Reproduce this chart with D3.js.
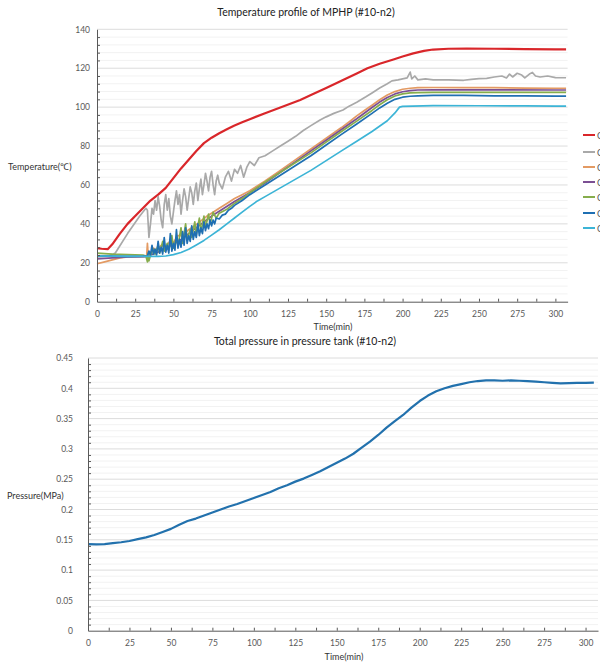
<!DOCTYPE html>
<html>
<head>
<meta charset="utf-8">
<script src="https://cdn.jsdelivr.net/npm/d3@7"></script>
<style>
  html, body { margin: 0; padding: 0; background: #fff; }
  svg { display: block; font-family: Lato, "Noto Sans", sans-serif; }
  .tick text { fill: #595959; }
</style>
</head>
<body>
<svg id="chart" width="600" height="664"></svg>
<script>
// ---- Temperature readings: [time (min), temperature (°C)] ----
const chRed = [[0,27.5],[3,27.2],[7,27],[10,29.5],[15,35],[20,40],[25,44],[30,48],[35,52],[40,55],[45,58.5],[50,63.5],[55,68.5],[60,73],[65,77.5],[70,81.5],[75,84.3],[80,86.6],[85,88.6],[90,90.5],[95,92.2],[100,93.8],[110,96.9],[120,99.8],[133,103.7],[140,106.2],[150,109.8],[160,113.5],[170,117.3],[177,120],[185,122.3],[194,124.5],[200,126],[207,127.6],[214,128.9],[220,129.6],[230,130],[242,130.1],[260,130],[280,129.8],[300,129.7],[307,129.7]];

const chGray = [[0,23],[8,23.5],[12,25],[20,35],[28,44],[32,48],[33,47],[34,33],[35,40],[36,48],[37,45],[38,52],[39,47],[40,54],[41,49],[42,42],[43,38],[44,50],[45,55],[46,47],[47,53],[48,44],[49,40],[50,46],[51,52],[52,57],[53,50],[54,55],[55,45],[56,52],[57,58],[58,54],[59,47],[60,53],[61,59],[62,56],[63,50],[64,57],[65,61],[66,52],[67,58],[68,63],[69,55],[70,60],[71,66],[72,62],[73,57],[74,64],[75,67],[76,60],[77,55],[78,62],[79,65],[80,61],[82,58],[84,64],[86,67],[88,62],[90,68],[92,66],[94,70],[96,64],[98,69],[100,72],[103,70],[106,74],[110,75],[115,77.5],[120,80],[125,82.5],[130,85],[135,88],[140,90.5],[146,93.4],[150,95],[155,96.8],[161,98.5],[165,100.5],[170,102.5],[176,105.3],[180,107.3],[185,109.8],[190,112],[193,113.5],[197,114],[200,114.5],[203,115],[205,118],[206,114.5],[208,116],[210,114],[215,114.5],[220,114],[230,114],[240,113.8],[245,114.3],[250,114.6],[255,114.8],[260,115.5],[265,116],[268,115],[270,117],[272,115.5],[275,117.4],[278,116.5],[280,115],[283,117],[285,117.8],[287,116],[290,115.5],[295,116],[300,115.2],[307,115.1]];

const chOrange = [[0,19.5],[5,20.5],[10,21.5],[15,22.5],[20,23],[30,23.2],[32.5,23.5],[33,30],[33.5,24],[35,25],[37,27.5],[39,26],[42,29],[45,28],[48,31.5],[50,30.5],[53,34],[56,34],[60,37],[64,39],[68,41.5],[72,44],[76,46],[80,48],[85,50.5],[90,53],[95,55],[100,57],[110,62],[120,67.5],[130,73],[140,78.5],[150,84],[160,89.5],[166,93],[170,95.5],[175,98.3],[180,101],[185,103.8],[190,106.2],[195,108],[200,109.2],[205,109.7],[210,110],[220,110.1],[240,110],[260,110],[280,109.8],[300,109.7],[307,109.7]];

const chPurple = [[0,22],[10,22.5],[20,23],[33,23.2],[35,24],[40,25.5],[45,27.5],[50,29.5],[55,32],[60,35],[65,38],[70,41],[75,44],[80,46.5],[90,51.5],[100,56],[110,61],[120,66.5],[130,72],[140,77.5],[150,83],[160,88.5],[170,94],[180,99.8],[185,102.6],[190,105],[195,106.8],[200,107.9],[205,108.5],[210,108.8],[220,108.9],[300,108.8],[307,108.8]];

const chGreen = [[0,25],[10,24.5],[20,24.2],[30,24],[32,23.5],[33,20.5],[33.5,25],[34,21],[35,24],[37,27],[38,24.5],[40,29],[41,25],[43,31],[44,26],[46,30],[47,26.5],[49,34],[50,27.5],[52,33],[53,28.5],[55,38],[56,30],[58,40],[59,31.5],[61,37],[62,33],[64,41],[65,34.5],[67,43],[68,36],[70,44],[71,38],[73,45],[74,40],[76,46],[78,43],[80,45.5],[85,47.5],[90,50.5],[95,53],[100,56],[110,61.5],[120,66.5],[130,71.5],[140,76.5],[150,82],[160,87.5],[170,92.8],[180,98.3],[185,101.2],[190,103.8],[195,105.7],[200,106.8],[205,107.3],[210,107.5],[220,107.6],[300,107.6],[307,107.6]];

const chBlue = [[0,23.5],[10,23.4],[20,23.3],[30,23.4],[33,23.5],[34,26],[35,24],[36,29],[37,24.5],[38,27],[39,24],[40,31],[41,25],[42,28],[43,24.5],[44,33],[45,25.5],[46,29],[47,25],[48,35],[49,26],[50,30],[51,26.5],[52,37],[53,27.5],[54,32],[55,28],[56,36],[57,29],[58,38],[59,30],[60,34],[61,31],[62,39],[63,32],[64,36],[65,33],[66,40],[67,34],[68,38],[69,35],[70,41],[71,36.5],[72,40],[73,37.5],[74,42],[75,39],[76,42],[77,40],[78,43],[80,42.5],[82,44.5],[84,45],[86,47],[88,48],[90,49.5],[95,52],[100,55],[110,60],[120,65],[130,70],[140,75],[150,80.5],[160,86],[170,91.3],[180,96.8],[185,99.6],[190,102],[195,104],[200,105.1],[205,105.6],[210,105.8],[220,106],[240,106],[260,105.8],[280,105.8],[300,105.7],[307,105.7]];

const chCyan = [[0,23.5],[20,23.3],[40,23.3],[45,23.5],[50,24.2],[55,25.3],[60,27],[65,29.2],[70,31.5],[75,34.2],[80,37],[85,40],[90,43],[95,46],[100,49],[105,51.8],[110,54],[120,58.5],[130,63],[140,67.5],[150,72.5],[160,77.5],[170,82.5],[180,87.5],[190,93],[195,97],[198,100],[200,100.4],[220,100.8],[250,100.7],[280,100.6],[300,100.5],[307,100.5]];

const channelNames = ["CH1","CH2","CH3","CH4","CH5","CH6","CH7"];
const channelColors = ["#d9262a","#a9a9a9","#e39a63","#7b4f93","#86ad4c","#1f6fb2","#3cb4d6"];
const channelData = [chRed, chGray, chOrange, chPurple, chGreen, chBlue, chCyan];

// ---- Pressure readings: [time (min), pressure (MPa)] ----
const pressure = [[0,0.143],[5,0.1425],[10,0.143],[15,0.1445],[20,0.146],[25,0.148],[30,0.151],[35,0.154],[40,0.158],[45,0.163],[50,0.168],[55,0.175],[60,0.181],[65,0.185],[70,0.19],[75,0.195],[80,0.2],[85,0.205],[90,0.209],[95,0.214],[100,0.219],[105,0.224],[110,0.229],[115,0.235],[120,0.24],[125,0.246],[130,0.251],[135,0.257],[140,0.263],[145,0.27],[150,0.277],[155,0.284],[160,0.292],[165,0.302],[170,0.312],[175,0.323],[180,0.335],[185,0.346],[190,0.356],[195,0.368],[200,0.379],[205,0.388],[210,0.395],[215,0.4],[220,0.404],[225,0.407],[230,0.41],[235,0.412],[240,0.413],[245,0.413],[250,0.4125],[255,0.413],[260,0.4125],[265,0.412],[270,0.411],[275,0.41],[280,0.409],[285,0.408],[290,0.4085],[295,0.409],[300,0.409],[305,0.4095]];

const timeTicks = [0,25,50,75,100,125,150,175,200,225,250,275,300];
const tempTicks = [0,20,40,60,80,100,120,140];
const pressTicks = [0,0.05,0.1,0.15,0.2,0.25,0.3,0.35,0.4,0.45];

const svg = d3.select("#chart");

function drawPanel(cfg) {
  const g = svg.append("g");
  const x = cfg.x, y = cfg.y;
  const [x0, x1] = x.range();
  const [yb, yt] = y.range();

  // minor gridlines
  g.append("g").selectAll("line").data(cfg.minorY).join("line")
    .attr("x1", x0).attr("x2", x1)
    .attr("y1", d => y(d)).attr("y2", d => y(d))
    .attr("stroke", "#f2f2f2").attr("stroke-width", 1);
  // major gridlines
  g.append("g").selectAll("line").data(cfg.yTicks.slice(1)).join("line")
    .attr("x1", x0).attr("x2", x1)
    .attr("y1", d => y(d)).attr("y2", d => y(d))
    .attr("stroke", "#dcdcdc").attr("stroke-width", 1);

  // series
  const line = d3.line().x(d => x(d[0])).y(d => y(d[1]));
  cfg.series.forEach(s => {
    g.append("path").datum(s.data)
      .attr("fill", "none").attr("stroke", s.color)
      .attr("stroke-width", s.width).attr("stroke-linejoin", "round")
      .attr("d", line);
  });

  // x axis with labels
  const xa = g.append("g").attr("transform", `translate(0,${yb})`)
    .call(d3.axisBottom(x).tickValues(timeTicks).tickSize(0).tickPadding(cfg.xPad));
  xa.select(".domain").attr("stroke", "#595959");
  xa.selectAll("text").attr("font-size", 8.5).attr("font-family", "Lato, sans-serif");
  // x minor ticks (inside)
  g.append("g").attr("transform", `translate(0,${yb})`)
    .call(d3.axisBottom(x).tickValues(d3.range(0, 301, 12.5)).tickSizeInner(-3).tickSizeOuter(0).tickFormat(""))
    .call(a => a.select(".domain").remove())
    .selectAll("line").attr("stroke", "#595959");

  // y axis with labels
  const ya = g.append("g").attr("transform", `translate(${x0},0)`)
    .call(d3.axisLeft(y).tickValues(cfg.yTicks).tickSize(0).tickPadding(cfg.yPad).tickFormat(cfg.yFormat));
  ya.select(".domain").attr("stroke", "#595959");
  ya.selectAll("text").attr("font-size", 8.5).attr("font-family", "Lato, sans-serif");
  g.append("g").attr("transform", `translate(${x0},0)`)
    .call(d3.axisLeft(y).tickValues(cfg.minorY).tickSizeInner(-3).tickSizeOuter(0).tickFormat(""))
    .call(a => a.select(".domain").remove())
    .selectAll("line").attr("stroke", "#595959");

  // titles
  svg.append("text").attr("x", cfg.titleX).attr("y", cfg.titleY)
    .attr("text-anchor", "middle").attr("font-size", 10.5).attr("fill", "#222")
    .text(cfg.title);
  svg.append("text").attr("x", cfg.xLabelX).attr("y", cfg.xLabelY)
    .attr("text-anchor", "middle").attr("font-size", 9).attr("fill", "#333")
    .text("Time(min)");
  svg.append("text").attr("x", cfg.yLabelX).attr("y", cfg.yLabelY)
    .attr("font-size", 9).attr("fill", "#333")
    .text(cfg.yLabel);
  return g;
}

// ---- Top panel: temperature ----
const xT = d3.scaleLinear().domain([0, 308]).range([97, 567.6]);
const yT = d3.scaleLinear().domain([0, 140]).range([301.7, 29.3]);
drawPanel({
  x: xT, y: yT,
  yTicks: tempTicks,
  minorY: d3.range(4, 140, 4).filter(v => v % 20 !== 0),
  yFormat: d3.format("d"),
  xPad: 9, yPad: 7,
  series: channelData.map((d, i) => ({ data: d, color: channelColors[i], width: i === 0 ? 2.2 : 1.7 })),
  title: "Temperature profile of MPHP (#10-n2)", titleX: 306, titleY: 16,
  xLabelX: 333, xLabelY: 330,
  yLabel: "Temperature(℃)", yLabelX: 8, yLabelY: 170
});

// legend, running on past the right edge of the page
const legend = svg.append("g").selectAll("g").data(channelNames).join("g")
  .attr("transform", (d, i) => `translate(583,${[135,152,167,182,197,213,228][i]})`);
legend.append("line").attr("x1", 0).attr("x2", 12)
  .attr("stroke", (d, i) => channelColors[i]).attr("stroke-width", 2);
legend.append("text").attr("x", 14).attr("y", 3.5)
  .attr("font-size", 9).attr("fill", "#595959").text(d => d);

// ---- Bottom panel: pressure ----
const xP = d3.scaleLinear().domain([0, 307.5]).range([88, 598]);
const yP = d3.scaleLinear().domain([0, 0.45]).range([630.7, 358]);
drawPanel({
  x: xP, y: yP,
  yTicks: pressTicks,
  minorY: d3.range(1, 45).filter(v => v % 5 !== 0).map(v => v / 100),
  yFormat: d => d3.format("")(+d.toFixed(2)),
  xPad: 9, yPad: 15,
  series: [{ data: pressure, color: "#2271ad", width: 2.2 }],
  title: "Total pressure in pressure tank (#10-n2)", titleX: 305, titleY: 345,
  xLabelX: 344, xLabelY: 660,
  yLabel: "Pressure(MPa)", yLabelX: 7, yLabelY: 499
});
</script>
</body>
</html>
